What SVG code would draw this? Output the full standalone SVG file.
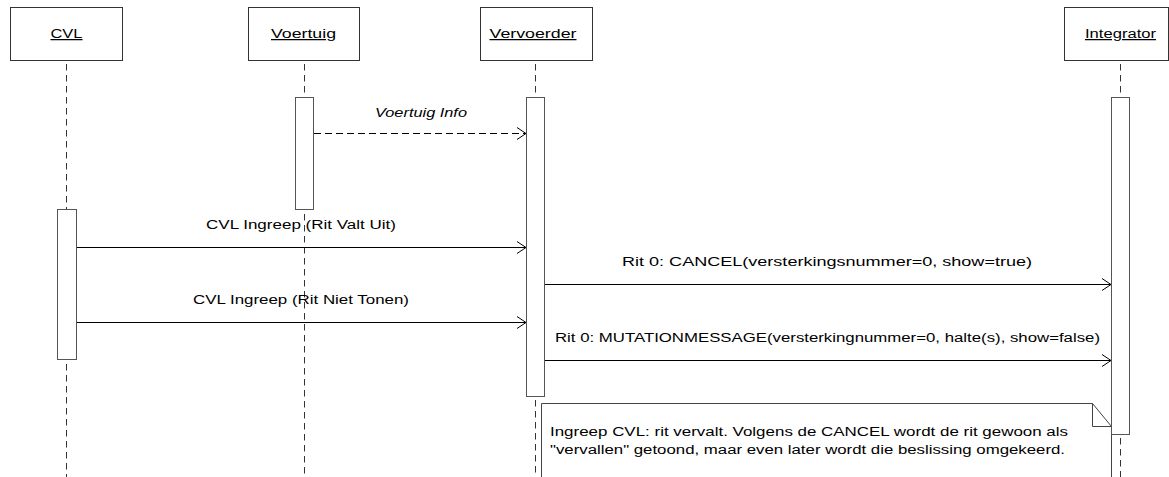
<svg xmlns="http://www.w3.org/2000/svg" width="1169" height="477" viewBox="0 0 1169 477">
<defs>
<style>
text{font-family:"Liberation Sans",Arial,sans-serif;font-size:12.5px;fill:#000}
.hdr{fill:#fff;stroke:#333;stroke-width:1}
.hl{text-decoration:underline;text-anchor:middle}
.life{stroke:#333;stroke-width:1;stroke-dasharray:6.5 4.5;fill:none}
.act{fill:#fff;stroke:#555;stroke-width:1}
.msg{stroke:#000;stroke-width:1;fill:none;marker-end:url(#open)}
.ret{stroke-dasharray:7 4}
.lbl{text-anchor:middle}
.note{fill:#fff;stroke:#444;stroke-width:1}
</style>
<marker id="open" markerUnits="userSpaceOnUse" markerWidth="12" markerHeight="14" viewBox="0 0 12 14" refX="10" refY="7" orient="auto"><path d="M1,1 L10,7 L1,13" fill="none" stroke="#000" stroke-width="1"/></marker>
</defs>
<rect width="1169" height="477" fill="#fff"/>

<g id="cvl">
<rect class="hdr" x="10.5" y="7.5" width="112" height="53"/>
<text class="hl" x="66.5" y="38" textLength="32" lengthAdjust="spacingAndGlyphs">CVL</text>
<path class="life" d="M66.5,64 V209 M66.5,364 V477"/>
<rect class="act" x="57.5" y="209.5" width="19" height="150"/>
</g>

<g id="voertuig">
<rect class="hdr" x="248.5" y="7.5" width="111" height="53"/>
<text class="hl" x="303.5" y="38" textLength="65" lengthAdjust="spacingAndGlyphs">Voertuig</text>
<path class="life" d="M304.5,64 V97 M304.5,214 V477"/>
<rect class="act" x="295.5" y="97.5" width="18" height="112"/>
</g>

<g id="vervoerder">
<rect class="hdr" x="480.5" y="7.5" width="112" height="53"/>
<text class="hl" x="533" y="38" textLength="87" lengthAdjust="spacingAndGlyphs">Vervoerder</text>
<path class="life" d="M535.5,64 V97 M535.5,400 V477"/>
<rect class="act" x="526.5" y="97.5" width="18" height="299"/>
</g>

<g id="integrator">
<rect class="hdr" x="1064.5" y="7.5" width="104" height="53"/>
<text class="hl" x="1120.5" y="38" textLength="71" lengthAdjust="spacingAndGlyphs">Integrator</text>
<path class="life" d="M1120.5,64 V97 M1120.5,438 V477"/>
</g>

<g id="connectors">
<line class="msg ret" x1="314" y1="133.5" x2="526" y2="133.5"/>
<text class="lbl" x="421" y="116.5" font-style="italic" textLength="92" lengthAdjust="spacingAndGlyphs">Voertuig Info</text>
<line class="msg" x1="77" y1="247.5" x2="526" y2="247.5"/>
<text class="lbl" x="301" y="229" textLength="190" lengthAdjust="spacingAndGlyphs">CVL Ingreep (Rit Valt Uit)</text>
<line class="msg" x1="545" y1="284.5" x2="1111" y2="284.5"/>
<text class="lbl" x="827" y="266" textLength="410" lengthAdjust="spacingAndGlyphs">Rit 0: CANCEL(versterkingsnummer=0, show=true)</text>
<line class="msg" x1="77" y1="322.5" x2="526" y2="322.5"/>
<text class="lbl" x="301" y="304" textLength="216" lengthAdjust="spacingAndGlyphs">CVL Ingreep (Rit Niet Tonen)</text>
<line class="msg" x1="545" y1="360.5" x2="1111" y2="360.5"/>
<text class="lbl" x="827.5" y="342" textLength="545" lengthAdjust="spacingAndGlyphs">Rit 0: MUTATIONMESSAGE(versterkingnummer=0, halte(s), show=false)</text>
</g>

<g id="note">
<path class="note" d="M541.5,478 V403.5 H1092.5 L1111.5,426.5 V478"/>
<path fill="none" stroke="#444" d="M1092.5,403.5 V426.5 H1111.5"/>
<text x="550" y="436" textLength="518" lengthAdjust="spacingAndGlyphs">Ingreep CVL: rit vervalt. Volgens de CANCEL wordt de rit gewoon als</text>
<text x="550" y="454" textLength="515" lengthAdjust="spacingAndGlyphs">"vervallen" getoond, maar even later wordt die beslissing omgekeerd.</text>
</g>

<g id="integrator-activation">
<rect class="act" x="1111.5" y="97.5" width="18" height="337"/>
</g>
</svg>
